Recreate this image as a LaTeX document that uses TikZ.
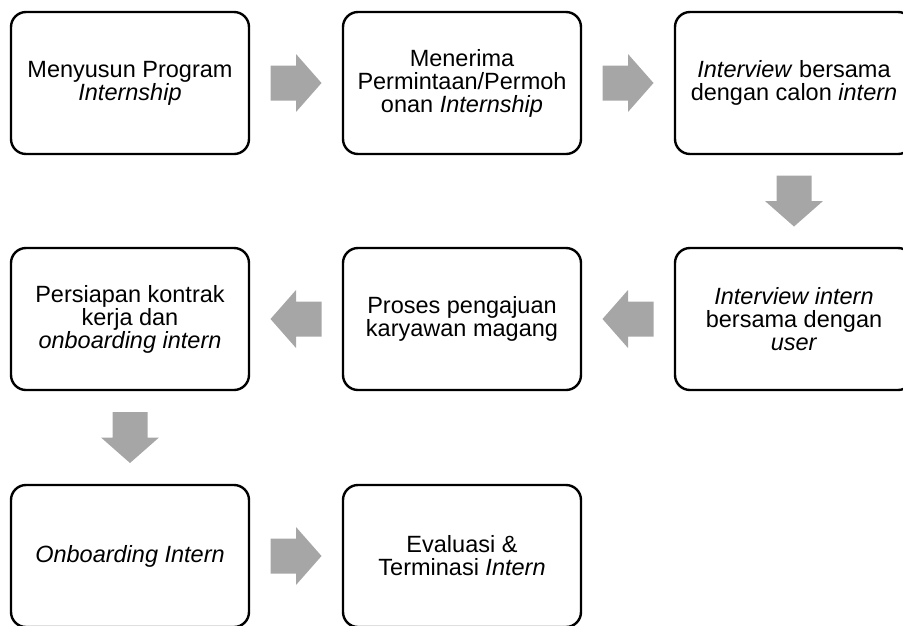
\documentclass[tikz,border=0pt]{standalone}
\usepackage{fontspec}
\setmainfont{Liberation Sans}
\usetikzlibrary{calc}
\definecolor{arrowgray}{RGB}{166,166,166}
\tikzset{
  box/.style={draw=black, line width=2.4pt, rounded corners=15pt, fill=white,
    minimum width=238pt, minimum height=142pt, align=center, inner sep=4pt,
    font=\fontsize{23.5}{23}\selectfont},
  blockarrow/.pic={\fill[arrowgray] (-25.5,-17.5) -- (0,-17.5) -- (0,-29) -- (25.5,0)
     -- (0,29) -- (0,17.5) -- (-25.5,17.5) -- cycle;}
}
\begin{document}
\begin{tikzpicture}[x=1pt,y=-1pt]
\useasboundingbox (0,0) rectangle (903,625);
\clip (0,0) rectangle (903,625);
\node[box] (b1) at (130,83) {Menyusun Program\\\textit{Internship}};
\node[box] (b2) at (462,83) {Menerima\\Permintaan/Permoh\\onan \textit{Internship}};
\node[box] (b3) at (794,83) {\textit{Interview} bersama\\dengan calon \textit{intern}};
\node[box] (b4) at (794,319) {\textit{Interview intern}\\bersama dengan\\\textit{user}};
\node[box] (b5) at (462,319) {Proses pengajuan\\karyawan magang};
\node[box] (b6) at (130,319) {Persiapan kontrak\\kerja dan\\\textit{onboarding intern}};
\node[box] (b7) at (130,556) {\textit{Onboarding Intern}};
\node[box] (b8) at (462,556) {Evaluasi \&\\Terminasi \textit{Intern}};
\pic at ($(b1.east)!0.5!(b2.west)$) {blockarrow};
\pic at ($(b2.east)!0.5!(b3.west)$) {blockarrow};
\pic[rotate=-90] at ($(b3.south)!0.5!(b4.north)$) {blockarrow};
\pic[rotate=180] at ($(b4.west)!0.5!(b5.east)$) {blockarrow};
\pic[rotate=180] at ($(b5.west)!0.5!(b6.east)$) {blockarrow};
\pic[rotate=-90] at ($(b6.south)!0.5!(b7.north)$) {blockarrow};
\pic at ($(b7.east)!0.5!(b8.west)$) {blockarrow};
\end{tikzpicture}
\end{document}
